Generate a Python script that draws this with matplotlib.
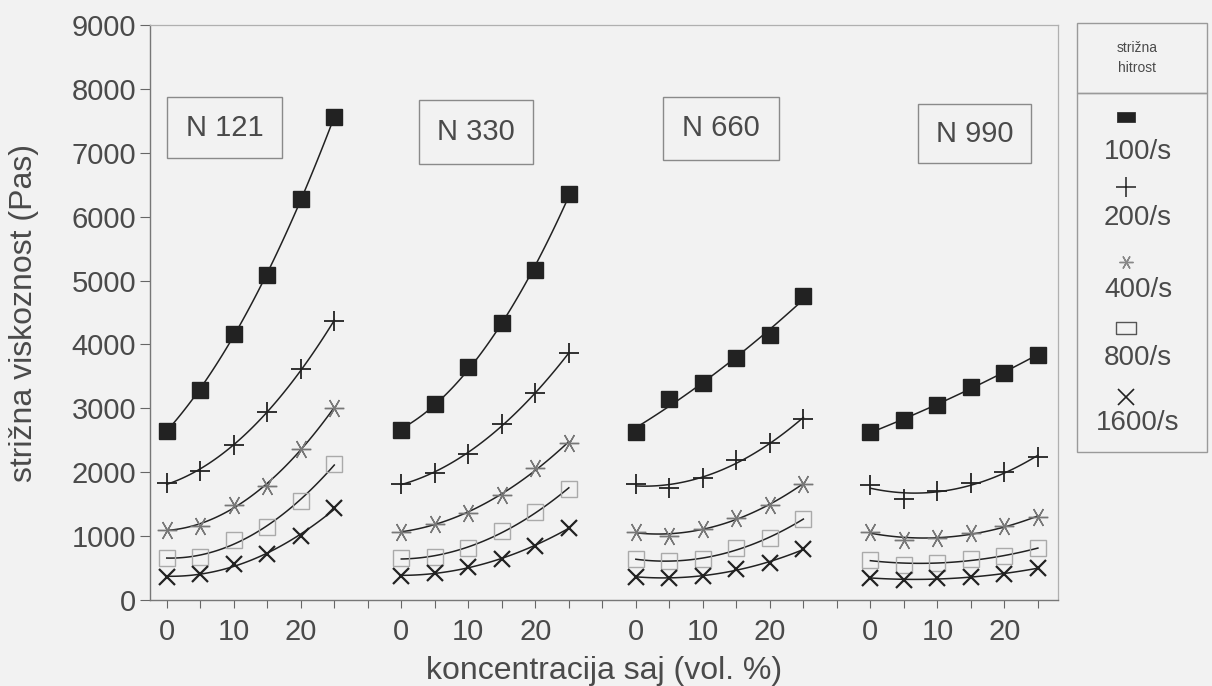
import matplotlib
matplotlib.use("Agg")
import matplotlib.pyplot as plt
import numpy as np
from matplotlib.patches import Rectangle

# soot concentration (vol. %) inside each group
conc = [0, 5, 10, 15, 20, 25]
rates = ['100/s', '200/s', '400/s', '800/s', '1600/s']
groups = ['N 121', 'N 330', 'N 660', 'N 990']

# shear viscosity (Pas), rows = shear rate 100, 200, 400, 800, 1600 /s
n121 = [[2650, 3290, 4170, 5090, 6270, 7560],
        [1830, 2020, 2430, 2950, 3620, 4360],
        [1100, 1160, 1490, 1790, 2370, 3010],
        [660, 670, 940, 1140, 1550, 2130],
        [360, 410, 560, 720, 1000, 1440]]
n330 = [[2660, 3070, 3640, 4340, 5160, 6360],
        [1820, 1990, 2290, 2760, 3240, 3860],
        [1070, 1190, 1360, 1650, 2070, 2460],
        [660, 670, 810, 1080, 1380, 1740],
        [380, 420, 520, 640, 850, 1130]]
n660 = [[2630, 3150, 3400, 3790, 4150, 4760],
        [1820, 1750, 1910, 2190, 2460, 2840],
        [1070, 1000, 1110, 1290, 1490, 1820],
        [640, 610, 640, 810, 970, 1270],
        [360, 350, 380, 480, 580, 800]]
n990 = [[2630, 2820, 3050, 3340, 3560, 3840],
        [1800, 1580, 1710, 1830, 2010, 2240],
        [1070, 940, 970, 1050, 1160, 1300],
        [630, 550, 580, 640, 690, 810],
        [350, 310, 340, 360, 410, 500]]
data = [n121, n330, n660, n990]

bg = '#f2f2f2'
ink = '#222222'
txt = '#4a4a4a'
plt.rcParams['font.family'] = ['Liberation Sans', 'DejaVu Sans']

# flat rectangle used for the legend "squares"
flat = [(-1, -0.6), (1, -0.6), (1, 0.6), (-1, 0.6), (-1, -0.6)]

# marker style per shear rate
styles = [dict(marker='s', ms=11, mfc='#222222', mec='#222222'),
          dict(marker='+', ms=14, mec='#222222', mew=1.3),
          dict(marker=(6, 2, 30), ms=14, mec='#777777', mew=1.0),
          dict(marker='s', ms=12, mfc='none', mec='#aaaaaa', mew=1.0),
          dict(marker='x', ms=12, mec='#222222', mew=1.6)]

fig = plt.figure(figsize=(12.12, 6.86), dpi=100, facecolor=bg)
ax = fig.add_axes([150 / 1212, 86 / 686, 908 / 1212, 575 / 686], facecolor=bg)

gap = 35  # x offset between groups
xs = np.array(conc, dtype=float)
xfine = np.linspace(0, 25, 100)
for g, grp in enumerate(data):
    off = g * gap
    for r, vals in enumerate(grp):
        coef = np.polyfit(xs, vals, 2)
        ax.plot(xfine + off, np.polyval(coef, xfine), color=ink, lw=1.1, zorder=2)
        ax.plot(xs + off, vals, ls='none', zorder=3, **styles[r])

# group name boxes
name_pos = [(167, 282, 97, 158), (419, 533, 100, 164), (663, 779, 97, 160), (918, 1031, 104, 163)]
for name, (x0, x1, y0, y1) in zip(groups, name_pos):
    fx0, fx1 = x0 / 1212, x1 / 1212
    fy0, fy1 = 1 - y1 / 686, 1 - y0 / 686
    fig.patches.append(Rectangle((fx0, fy0), fx1 - fx0, fy1 - fy0, transform=fig.transFigure,
                                 fill=False, ec='#8a8a8a', lw=1.0))
    fig.text((fx0 + fx1) / 2, (fy0 + fy1) / 2, name, ha='center', va='center',
             fontsize=21, color=txt)

ax.set_xlim(-2.5, 133)
ax.set_ylim(0, 9000)
ax.set_yticks(np.arange(0, 9001, 1000))
ticks = np.arange(0, 131, 5)
labels = []
for t in ticks:
    rel = t % gap
    labels.append(str(rel) if rel in (0, 10, 20) else '')
ax.set_xticks(ticks)
ax.set_xticklabels(labels)
ax.tick_params(axis='both', colors='#666666', labelcolor=txt, labelsize=21, direction='out')
ax.tick_params(axis='x', length=6, pad=7)
ax.tick_params(axis='y', length=7, pad=3)
for side in ['top', 'right']:
    ax.spines[side].set_color('#b0b0b0')
    ax.spines[side].set_linewidth(0.9)
for side in ['left', 'bottom']:
    ax.spines[side].set_color('#777777')
    ax.spines[side].set_linewidth(1.0)

ax.set_xlabel('koncentracija saj (vol. %)', fontsize=23, color=txt)
ax.set_ylabel('strižna viskoznost (Pas)', fontsize=23, color=txt)
ax.xaxis.set_label_coords(0.5, -0.098)
ax.yaxis.set_label_coords(-0.122, 0.5)

# legend built by hand: marker above its label
lx0, lx1 = 1077 / 1212, 1207 / 1212
ly_top, ly_div, ly_bot = 1 - 23 / 686, 1 - 93 / 686, 1 - 452 / 686
fig.patches.append(Rectangle((lx0, ly_div), lx1 - lx0, ly_top - ly_div, transform=fig.transFigure,
                             fill=False, ec='#9a9a9a', lw=1.0))
fig.patches.append(Rectangle((lx0, ly_bot), lx1 - lx0, ly_div - ly_bot, transform=fig.transFigure,
                             fill=False, ec='#9a9a9a', lw=1.0))
fig.text((lx0 + lx1) / 2 - 0.004, (ly_top + ly_div) / 2, 'strižna\nhitrost', ha='center', va='center',
         fontsize=10, color=txt, linespacing=1.6)
mark_y = [117, 187, 262, 328, 397]
lab_y = [152, 218, 290, 358, 423]
leg_styles = [dict(marker=flat, ms=13, mfc='#222222', mec='#222222', mew=0.5),
              dict(marker='+', ms=14, mec='#222222', mew=1.1),
              dict(marker=(6, 2, 30), ms=10, mec='#888888', mew=1.0),
              dict(marker=flat, ms=15, mfc='none', mec='#555555', mew=1.0),
              dict(marker='x', ms=12, mec='#222222', mew=1.2)]
for r, lab in enumerate(rates):
    fig.lines.append(plt.Line2D([1126 / 1212], [1 - mark_y[r] / 686], transform=fig.transFigure,
                                ls='none', **leg_styles[r]))
    fig.text(1138 / 1212, 1 - lab_y[r] / 686, lab, ha='center', va='center', fontsize=20, color=txt)

fig.savefig('out.png', dpi=100, facecolor=bg)
